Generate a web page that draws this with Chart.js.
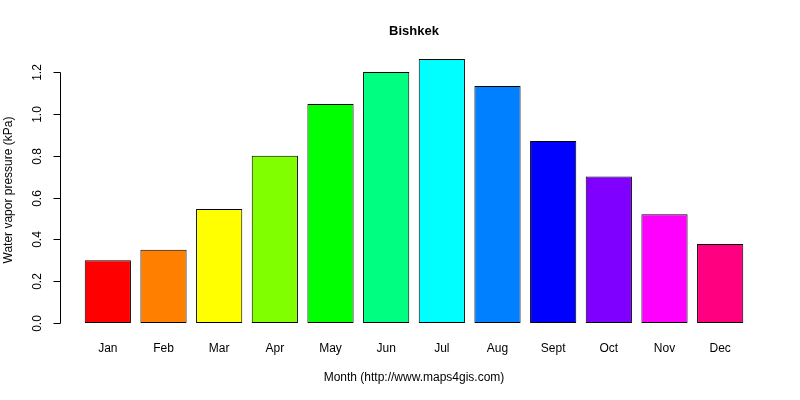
<!DOCTYPE html>
<html>
<head>
<meta charset="utf-8">
<script src="https://cdn.jsdelivr.net/npm/chart.js@4"></script>
<style>
  body { margin: 0; background: #fff; }
  #wrap { width: 800px; height: 400px; }
</style>
</head>
<body>
<div id="wrap"><canvas id="chart"></canvas></div>
<script>
const months = ["Jan", "Feb", "Mar", "Apr", "May", "Jun", "Jul", "Aug", "Sept", "Oct", "Nov", "Dec"];
const vaporPressure = [0.30, 0.35, 0.545, 0.80, 1.047, 1.20, 1.262, 1.133, 0.87, 0.70, 0.52, 0.378];
const barColors = ["#FF0000", "#FF8000", "#FFFF00", "#80FF00", "#00FF00", "#00FF80",
                   "#00FFFF", "#0080FF", "#0000FF", "#8000FF", "#FF00FF", "#FF0080"];
const yTicks = [0, 0.2, 0.4, 0.6, 0.8, 1.0, 1.2];
const yTickLabels = ["0.0", "0.2", "0.4", "0.6", "0.8", "1.0", "1.2"];

const font = "12px 'Liberation Sans', Arial, sans-serif";

// axes and texts drawn R-style
const rAxes = {
    id: "rAxes",
    afterDraw(chart) {
        const ctx = chart.ctx;
        const y = chart.scales.y;
        const x = chart.scales.x;
        ctx.save();
        ctx.strokeStyle = "#000";
        ctx.fillStyle = "#000";
        ctx.lineWidth = 1;

        // y axis
        const ax = 60.5;
        ctx.beginPath();
        ctx.moveTo(ax, Math.round(y.getPixelForValue(0)) + 0.5);
        ctx.lineTo(ax, Math.round(y.getPixelForValue(1.2)) + 0.5);
        ctx.stroke();
        ctx.font = font;
        ctx.textAlign = "center";
        ctx.textBaseline = "bottom";
        yTicks.forEach((v, i) => {
            const py = Math.round(y.getPixelForValue(v)) + 0.5;
            ctx.beginPath();
            ctx.moveTo(ax, py);
            ctx.lineTo(ax - 7, py);
            ctx.stroke();
            ctx.save();
            ctx.translate(44, py);
            ctx.rotate(-Math.PI / 2);
            ctx.fillText(yTickLabels[i], 0, 0);
            ctx.restore();
        });

        // month labels
        ctx.textBaseline = "middle";
        months.forEach((m, i) => {
            ctx.fillText(m, x.getPixelForValue(i), 349);
        });

        // axis titles
        ctx.fillText("Month (http://www.maps4gis.com)", 414, 378);
        ctx.save();
        ctx.translate(9, 190);
        ctx.rotate(-Math.PI / 2);
        ctx.fillText("Water vapor pressure (kPa)", 0, 0);
        ctx.restore();

        // title
        ctx.font = "bold 13px 'Liberation Sans', Arial, sans-serif";
        ctx.fillText("Bishkek", 414, 31);
        ctx.restore();
    }
};

new Chart(document.getElementById("chart").getContext("2d"), {
    type: "bar",
    data: {
        labels: months,
        datasets: [{
            data: vaporPressure,
            backgroundColor: barColors,
            borderColor: "#000",
            borderWidth: 1,
            borderSkipped: false,
            categoryPercentage: 1,
            barPercentage: 0.83
        }]
    },
    options: {
        responsive: true,
        maintainAspectRatio: false,
        animation: false,
        layout: { padding: { left: 80, right: 52, top: 49, bottom: 77 } },
        plugins: { legend: { display: false }, tooltip: { enabled: false } },
        scales: {
            x: { display: false },
            y: { display: false, min: 0, max: 1.31 }
        }
    },
    plugins: [rAxes]
});
</script>
</body>
</html>
